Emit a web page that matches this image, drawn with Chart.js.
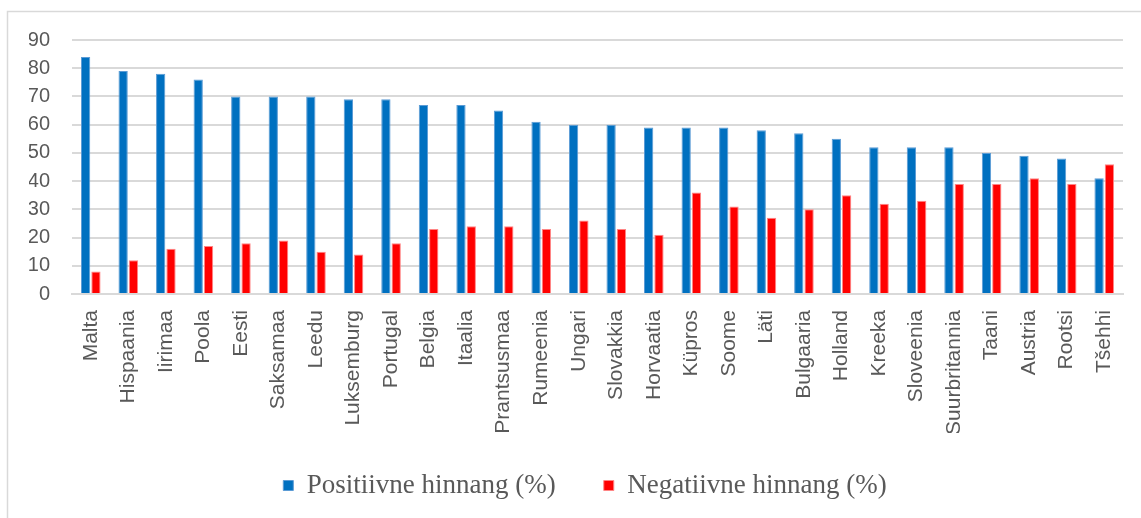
<!DOCTYPE html>
<html>
<head>
<meta charset="utf-8">
<script src="https://cdn.jsdelivr.net/npm/chart.js@4"></script>
<style>
  html, body { margin: 0; padding: 0; background: #fff; }
  #wrap { width: 1141px; height: 518px; position: relative; }
</style>
</head>
<body>
<div id="wrap"><canvas id="myChart" width="1141" height="518"></canvas></div>
<script>
const countries = ["Malta", "Hispaania", "Iirimaa", "Poola", "Eesti", "Saksamaa", "Leedu", "Luksemburg",
  "Portugal", "Belgia", "Itaalia", "Prantsusmaa", "Rumeenia", "Ungari", "Slovakkia", "Horvaatia",
  "Küpros", "Soome", "Läti", "Bulgaaria", "Holland", "Kreeka", "Sloveenia", "Suurbritannia",
  "Taani", "Austria", "Rootsi", "Tšehhi"];
const positive = [84, 79, 78, 76, 70, 70, 70, 69, 69, 67, 67, 65, 61, 60, 60, 59, 59, 59, 58, 57, 55, 52, 52, 52, 50, 49, 48, 41];
const negative = [8, 12, 16, 17, 18, 19, 15, 14, 18, 23, 24, 24, 23, 26, 23, 21, 36, 31, 27, 30, 35, 32, 33, 39, 39, 41, 39, 46];
const yTicks = [0, 10, 20, 30, 40, 50, 60, 70, 80, 90];

// thin grey frame like the original (top and left edges only visible)
const framePlugin = {
  id: 'frame',
  afterLayout(chart) {
    // nudge legend a little right and up, like the original
    const lg = chart.legend;
    if (lg) {
      lg.left += 9; lg.right += 9;
      lg.top -= 9; lg.bottom -= 9;
    }
  },
  beforeDraw(chart) {
    const c = chart.ctx;
    c.save();
    c.strokeStyle = '#d9d9d9';
    c.lineWidth = 1.5;
    c.beginPath();
    c.moveTo(7.5, 518);
    c.lineTo(7.5, 11.5);
    c.lineTo(1141, 11.5);
    c.stroke();
    c.restore();
  }
};

const ctx = document.getElementById('myChart').getContext('2d');
new Chart(ctx, {
  type: 'bar',
  data: {
    labels: countries,
    datasets: [
      {
        label: 'Positiivne hinnang (%)',
        data: positive,
        backgroundColor: '#0070c0',
        borderColor: '#5b9bd5',
        borderWidth: 1,
        categoryPercentage: 0.55,
        barPercentage: 0.9
      },
      {
        label: 'Negatiivne hinnang (%)',
        data: negative,
        backgroundColor: '#ff0000',
        borderColor: '#ff8585',
        borderWidth: 1,
        categoryPercentage: 0.55,
        barPercentage: 0.9
      }
    ]
  },
  plugins: [framePlugin],
  options: {
    responsive: false,
    animation: false,
    layout: { padding: { top: 40, right: 18, bottom: 0, left: 29 } },
    plugins: {
      tooltip: { enabled: false },
      legend: {
        position: 'bottom',
        labels: {
          font: { family: '"Liberation Serif", "Times New Roman", serif', size: 27 },
          color: '#595959',
          boxWidth: 10,
          boxHeight: 10,
          padding: 48
        }
      }
    },
    scales: {
      x: {
        grid: { display: false },
        border: { color: '#d9d9d9', width: 2 },
        ticks: {
          color: '#595959',
          font: { family: '"Liberation Sans", Arial, sans-serif', size: 21 },
          minRotation: 90,
          maxRotation: 90,
          autoSkip: false,
          padding: 8
        },
        afterFit(scale) { scale.height = 139; }
      },
      y: {
        min: 0,
        max: 90,
        afterBuildTicks(scale) { scale.ticks = yTicks.map(v => ({ value: v })); },
        grid: { color: '#d9d9d9', lineWidth: 2, drawTicks: false },
        border: { display: false },
        ticks: {
          color: '#595959',
          font: { family: '"Liberation Sans", Arial, sans-serif', size: 20 },
          padding: 22
        },
        afterFit(scale) { scale.width = 43; }
      }
    }
  }
});
</script>
</body>
</html>
